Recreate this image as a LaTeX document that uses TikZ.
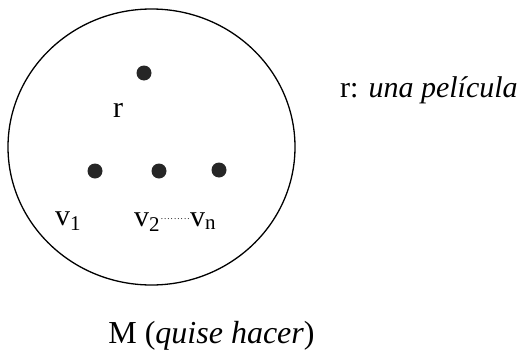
\documentclass[tikz,border=0pt]{standalone}
\usepackage{fontspec}
\setmainfont{Liberation Serif}
\usetikzlibrary{shapes.geometric, positioning}

\newcommand{\dotrun}{\raisebox{7pt}{\fontsize{9}{9}\selectfont\xleaders\hbox to 3.3pt{\hss.\hss}\hskip 30pt}}

\begin{document}
\begin{tikzpicture}[x=1pt, y=-1pt,
    set/.style={ellipse, draw, line width=1.3pt, minimum width=287pt, minimum height=276pt, inner sep=0pt},
    dot/.style={circle, fill=black!85, inner sep=0pt, minimum size=15pt},
    lbl/.style={inner sep=0pt, font=\fontsize{30}{34}\selectfont}
]
\useasboundingbox (0,0) rectangle (517,351);
\node[set] (M) at (151.5,147) {};
\node[dot] (r) at (144,73) {};
\node[dot] (v1) at (95,171) {};
\node[dot] (v2) at (159,171) {};
\node[dot] (vn) at (219,170) {};
\node[lbl, anchor=base] (rlabel) at (118,117) {r};
\node[lbl, anchor=base west] (v1label) at (55,225) {v\textsubscript{1}};
\node[lbl, anchor=base west] (v2label) at (134,226) {v\textsubscript{2}\dotrun v\textsubscript{n}};
\node[lbl, anchor=base west] (rdef) at (340,97) {r: \textit{una película}};
\node[lbl, anchor=base, font=\fontsize{32}{36}\selectfont] (Mname) at (211.5,343) {M (\textit{quise hacer})};
\end{tikzpicture}
\end{document}
